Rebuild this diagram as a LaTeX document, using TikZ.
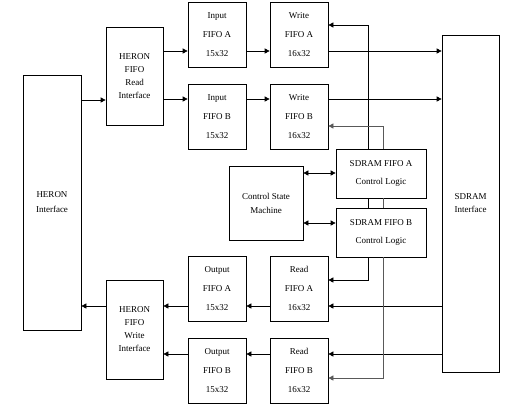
\documentclass[tikz,border=0pt]{standalone}
\usepackage{fontspec}
\setmainfont{Liberation Serif}
\usetikzlibrary{arrows.meta}

\begin{document}
\begin{tikzpicture}[x=1pt,y=-1pt,line width=0.7pt,>={Triangle[length=5pt,width=5pt]}]
    \useasboundingbox (0,0) rectangle (505,407);
    \begin{scope}[inner sep=0pt,minimum width=58pt,minimum height=65pt]
      \tikzstyle{every node}=[draw,align=center,font=\fontsize{9}{19}\selectfont]
      % HERON side
      \node[minimum height=255pt,font=\fontsize{9}{15}\selectfont] (heron) at (52  ,202.5) {HERON\\Interface};
      \node[minimum width=57pt,minimum height=98pt,font=\fontsize{9}{13}\selectfont]  (rdif) at (134.5,76) {HERON\\FIFO\\Read\\Interface};
      \node[minimum width=57pt,minimum height=99pt,font=\fontsize{9}{13}\selectfont]  (wrif) at (134.5,329.5) {HERON\\FIFO\\Write\\Interface};
      % FIFOs
      \node (inA)  at (217,34.5)  {Input\\FIFO A\\15x32};
      \node (inB)  at (217,116.5) {Input\\FIFO B\\15x32};
      \node (wrA)  at (299,34.5)  {Write\\FIFO A\\16x32};
      \node (wrB)  at (299,116.5) {Write\\FIFO B\\16x32};
      \node (outA) at (217,288.5) {Output\\FIFO A\\15x32};
      \node (outB) at (217,370.5) {Output\\FIFO B\\15x32};
      \node (rdA)  at (299,288.5) {Read\\FIFO A\\16x32};
      \node (rdB)  at (299,370.5) {Read\\FIFO B\\16x32};
      % control
      \node[minimum width=74pt,minimum height=74pt,font=\fontsize{9}{14}\selectfont] (csm) at (266,203) {Control State\\Machine};
      \node[minimum width=90pt,minimum height=49pt,font=\fontsize{9}{18}\selectfont] (ctlA) at (381,173.5) {SDRAM FIFO A\\Control Logic};
      \node[minimum width=90pt,minimum height=49pt,font=\fontsize{9}{18}\selectfont] (ctlB) at (381,232.5) {SDRAM FIFO B\\Control Logic};
      % SDRAM side
      \node[minimum width=57pt,minimum height=337pt,font=\fontsize{9}{13}\selectfont] (sdram) at (470.5,203.5) {SDRAM\\Interface};
    \end{scope}

    % write path
    \draw[->] (heron.east |- 0,100) -- (rdif.west |- 0,100);
    \draw[->] (rdif.east |- 0,51) -- (inA.west |- 0,51);
    \draw[->] (rdif.east |- 0,99) -- (inB.west |- 0,99);
    \draw[->] (inA.east |- 0,51) -- (wrA.west |- 0,51);
    \draw[->] (inB.east |- 0,99) -- (wrB.west |- 0,99);
    \draw[->] (wrA.east |- 0,51) -- (sdram.west |- 0,51);
    \draw[->] (wrB.east |- 0,99) -- (sdram.west |- 0,99);

    % read path
    \draw[->] (sdram.west |- 0,306) -- (rdA.east |- 0,306);
    \draw[->] (sdram.west |- 0,354) -- (rdB.east |- 0,354);
    \draw[->] (rdA.west |- 0,306) -- (outA.east |- 0,306);
    \draw[->] (rdB.west |- 0,354) -- (outB.east |- 0,354);
    \draw[->] (outA.west |- 0,306) -- (wrif.east |- 0,306);
    \draw[->] (outB.west |- 0,354) -- (wrif.east |- 0,354);
    \draw[->] (wrif.west |- 0,306) -- (heron.east |- 0,306);

    % control lines
    \draw[<->] (csm.east |- 0,173) -- (ctlA.west |- 0,173);
    \draw[<->] (csm.east |- 0,223) -- (ctlB.west |- 0,223);
    \draw[->]           (ctlA.north -| 368,0) |- (wrA.east |- 0,25);
    \draw[->,black!65]  (ctlA.north -| 383,0) |- (wrB.east |- 0,126);
    \draw               (ctlA.south -| 368,0) -- (ctlB.north -| 368,0);
    \draw[black!65]     (ctlA.south -| 383,0) -- (ctlB.north -| 383,0);
    \draw[->]           (ctlB.south -| 368,0) |- (rdA.east |- 0,280);
    \draw[->,black!65]  (ctlB.south -| 383,0) |- (rdB.east |- 0,378);
  \end{tikzpicture}
\end{document}
